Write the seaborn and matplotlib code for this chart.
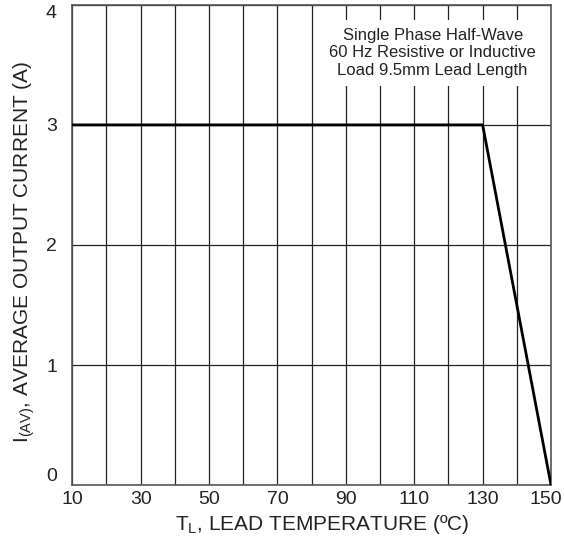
import matplotlib
matplotlib.use("Agg")
import matplotlib.pyplot as plt
import matplotlib.transforms as mtransforms
import seaborn as sns
import pandas as pd

# derating curve
temp = [10, 130, 150]
current = [3, 3, 0]
x_ticks = [10, 30, 50, 70, 90, 110, 130, 150]
y_ticks = [0, 1, 2, 3, 4]
note = "Single Phase Half-Wave\n60 Hz Resistive or Inductive\nLoad 9.5mm Lead Length"

sns.set_style("white")
plt.rcParams['font.family'] = ['Liberation Sans', 'DejaVu Sans']

fig = plt.figure(figsize=(5.64, 5.39), dpi=100)
ax = fig.add_axes([0.128, 0.100, 0.849, 0.891])

df = pd.DataFrame({'temp': temp, 'current': current})
sns.lineplot(data=df, x='temp', y='current', color='black', linewidth=2.0, ax=ax, zorder=4)

ax.set_xlim(10, 150)
ax.set_ylim(0, 4)
ax.set_xticks(x_ticks)
ax.set_xticks(range(10, 151, 10), minor=True)
ax.set_yticks(y_ticks)
ax.grid(which='both', axis='x', color='#222222', linewidth=0.9)
ax.grid(which='major', axis='y', color='#222222', linewidth=0.9)
ax.tick_params(axis='both', which='both', length=0, labelsize=14, colors='#222222')
ax.tick_params(axis='x', pad=4)
ax.tick_params(axis='y', pad=11)

# edge tick labels nudged inward like the datasheet
ylabels = ax.get_yticklabels()
ylabels[0].set_va('bottom')
ylabels[-1].set_va('top')
xlabels = ax.get_xticklabels()
shift = mtransforms.ScaledTranslation(-0.055, 0, fig.dpi_scale_trans)
xlabels[-1].set_transform(xlabels[-1].get_transform() + shift)

for s in ax.spines.values():
    s.set_color('#555555')
    s.set_linewidth(1.2)

ax.set_xlabel('T$_\\mathregular{L}$, LEAD TEMPERATURE (ºC)', fontsize=15, color='#222222')
ax.set_ylabel('I$_\\mathregular{(AV)}$, AVERAGE OUTPUT CURRENT (A)', fontsize=15, color='#222222')
ax.xaxis.set_label_coords(0.523, -0.058)
ax.yaxis.set_label_coords(-0.074, 0.486)

ax.text(115.4, 3.6, note, ha='center', va='center', fontsize=12, color='#222222',
        linespacing=1.2, zorder=5,
        bbox=dict(facecolor='white', edgecolor='none', pad=6))

fig.savefig('out.png', dpi=100)
